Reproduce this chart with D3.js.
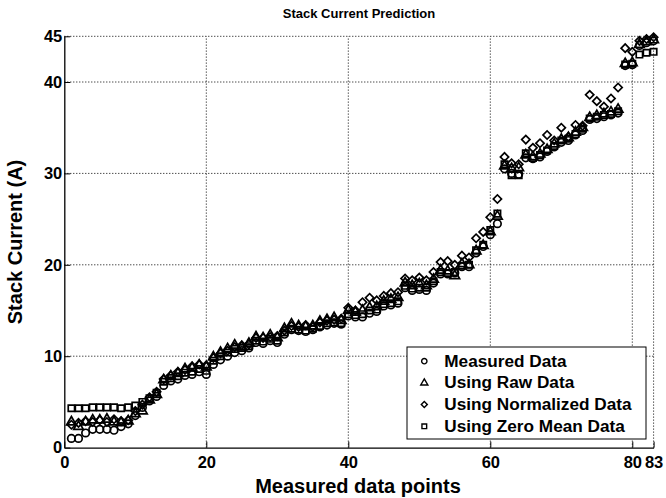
<!DOCTYPE html>
<html><head><meta charset="utf-8">
<script src="https://cdn.jsdelivr.net/npm/d3@7"></script>
<style>body{margin:0;background:#fff}svg{display:block}text{font-family:"Liberation Sans",Arial,Helvetica,sans-serif;font-weight:bold;fill:#000}</style>
</head><body>
<script>
const xTicks = [0, 20, 40, 60, 80, 83];
const yTicks = [0, 10, 20, 30, 40, 45];
const seriesNames = ["Measured Data", "Using Raw Data", "Using Normalized Data", "Using Zero Mean Data"];
const measured = [1.0,1.0,1.6,2.0,2.0,2.0,1.9,2.3,2.6,3.5,4.4,5.1,5.6,6.8,7.3,7.5,7.9,8.0,8.3,8.0,
  9.1,9.6,10.0,10.4,10.6,10.9,11.5,11.4,11.7,11.5,12.4,12.9,12.8,12.7,12.9,13.2,13.4,13.6,13.5,14.4,
  14.3,14.3,14.7,14.9,15.5,15.6,15.8,17.5,17.2,17.3,17.2,18.0,19.0,19.0,19.1,19.8,19.8,21.3,22.0,23.3,
  24.5,30.5,30.0,29.9,31.7,31.6,31.8,32.4,32.9,33.4,33.6,34.2,34.7,35.9,36.0,36.2,36.4,36.6,41.8,41.9,
  44.0,44.3,44.5];
const rawData = [2.8,2.3,2.8,3.0,3.0,3.1,2.8,2.7,2.9,3.7,4.0,5.2,5.8,7.4,7.8,8.1,8.6,8.7,9.0,8.8,
  9.9,10.4,10.8,11.2,11.0,11.4,12.1,12.0,12.3,12.0,13.0,13.5,13.3,13.2,13.3,13.8,14.0,14.2,13.9,15.0,
  14.8,15.0,15.3,15.4,16.0,16.2,16.4,18.0,17.7,17.9,17.7,18.4,19.4,19.3,18.8,20.1,20.0,21.5,22.1,23.6,
  25.3,30.8,30.5,30.6,32.0,31.8,32.1,32.6,33.2,33.7,33.9,34.5,35.0,36.1,36.3,36.5,36.7,37.0,42.0,42.1,
  44.1,44.4,44.6];
const normalizedData = [2.5,2.7,2.9,2.8,3.0,2.8,3.1,2.9,3.0,4.0,4.7,5.5,6.1,7.5,7.9,8.3,8.5,8.9,9.1,9.0,
  9.8,10.3,10.6,11.0,11.2,11.3,12.0,12.0,12.1,12.2,12.8,13.3,13.2,13.4,13.2,13.7,13.9,14.0,14.1,15.3,
  15.0,15.9,16.4,16.1,16.6,16.9,17.0,18.5,18.3,18.6,18.3,19.2,20.3,20.4,20.0,21.0,20.8,22.9,23.6,25.2,
  27.2,31.8,31.1,31.0,33.7,32.8,33.3,34.2,33.6,35.0,34.0,35.3,35.2,38.6,37.9,37.3,38.2,39.4,43.7,43.3,
  44.5,44.7,44.9];
const zeroMeanData = [4.3,4.3,4.3,4.4,4.4,4.4,4.4,4.3,4.4,4.6,5.0,5.4,6.0,7.2,7.6,7.8,8.2,8.3,8.6,8.4,
  9.5,10.0,10.4,10.8,10.9,11.1,11.7,11.6,11.9,11.7,12.6,13.0,12.9,12.8,13.0,13.3,13.6,13.7,13.6,14.6,
  14.5,14.6,15.0,15.1,15.7,15.8,16.0,17.7,17.4,17.5,17.5,18.2,19.2,19.1,19.2,19.9,20.0,21.6,22.2,23.8,
  25.6,31.0,29.8,29.8,32.2,31.7,32.0,32.5,33.0,33.6,33.8,34.3,34.9,36.0,36.2,36.4,36.5,36.8,41.9,42.0,
  43.0,43.2,43.3];

const W = 666, H = 498;
const m = {left: 64.3, right: 666 - 653.6, top: 36.3, bottom: 498 - 447.6};
const svg = d3.select("body").append("svg").attr("width", W).attr("height", H);
const x = d3.scaleLinear().domain([0, 83]).range([m.left, W - m.right]);
const y = d3.scaleLinear().domain([0, 45]).range([H - m.bottom, m.top]);

// grid
const g = svg.append("g");
g.selectAll(".gx").data(xTicks.filter(d => d > 0)).join("line")
  .attr("x1", d => x(d)).attr("x2", d => x(d)).attr("y1", y(0)).attr("y2", y(45))
  .attr("stroke", "#000").attr("stroke-width", 1).attr("stroke-dasharray", "1,2");
g.selectAll(".gy").data(yTicks.filter(d => d > 0)).join("line")
  .attr("y1", d => y(d)).attr("y2", d => y(d)).attr("x1", x(0)).attr("x2", x(83))
  .attr("stroke", "#000").attr("stroke-width", 1).attr("stroke-dasharray", "1,2");

// axes
const xAxis = d3.axisBottom(x).tickValues(xTicks).tickSizeInner(-6).tickSizeOuter(0).tickPadding(12);
const yAxis = d3.axisLeft(y).tickValues(yTicks).tickSizeInner(-6).tickSizeOuter(0).tickPadding(10);
const gx = svg.append("g").attr("transform", `translate(0,${y(0)})`).call(xAxis);
const gy = svg.append("g").attr("transform", `translate(${x(0)},0)`).call(yAxis);
[gx, gy].forEach(a => {
  a.select(".domain").attr("stroke", "#000").attr("stroke-width", 1.3);
  a.selectAll(".tick line").attr("stroke", "#000");
  a.selectAll(".tick text").style("font-size", "16.5px").style("font-weight", "bold")
    .style("font-family", '"Liberation Sans",Arial,sans-serif').attr("fill", "#000");
});
gx.selectAll(".tick text").attr("dy", "0.71em").attr("y", 9);
gy.selectAll(".tick text").attr("x", -2);

// markers
const symbols = [d3.symbolCircle, d3.symbolTriangle, d3.symbolSquare, d3.symbolSquare];
const rot = [0, 0, 45, 0];
const sizes = [44, 40, 34, 40];
const all = [measured, rawData, normalizedData, zeroMeanData];
all.forEach((vals, k) => {
  svg.append("g").selectAll("path").data(vals).join("path")
    .attr("transform", (d, i) => `translate(${x(i + 1)},${y(d)}) rotate(${rot[k]})`)
    .attr("d", d3.symbol(symbols[k], sizes[k])())
    .attr("fill", "none").attr("stroke", "#000").attr("stroke-width", 1.7);
});

// legend
const lg = svg.append("g");
lg.append("rect").attr("x", 407).attr("y", 347).attr("width", 239).attr("height", 92)
  .attr("fill", "#fff").attr("stroke", "#000").attr("stroke-width", 1);
seriesNames.forEach((name, k) => {
  const by = 366.7 + k * 21.7;
  lg.append("path").attr("transform", `translate(424.3,${by - 5.5}) rotate(${rot[k]})`)
    .attr("d", d3.symbol(symbols[k], k === 2 ? 18 : 22)()).attr("fill", "none").attr("stroke", "#000").attr("stroke-width", 1.4);
  lg.append("text").attr("x", 444.3).attr("y", by).style("font-size", "17.2px").text(name);
});

// titles
svg.append("text").attr("x", 359).attr("y", 18).attr("text-anchor", "middle").style("font-size", "13px").text("Stack Current Prediction");
svg.append("text").attr("x", 358).attr("y", 493).attr("text-anchor", "middle").style("font-size", "20px").text("Measured data points");
svg.append("text").attr("transform", "translate(22,242) rotate(-90)").attr("text-anchor", "middle").style("font-size", "20px").text("Stack Current (A)");
</script>
</body></html>
